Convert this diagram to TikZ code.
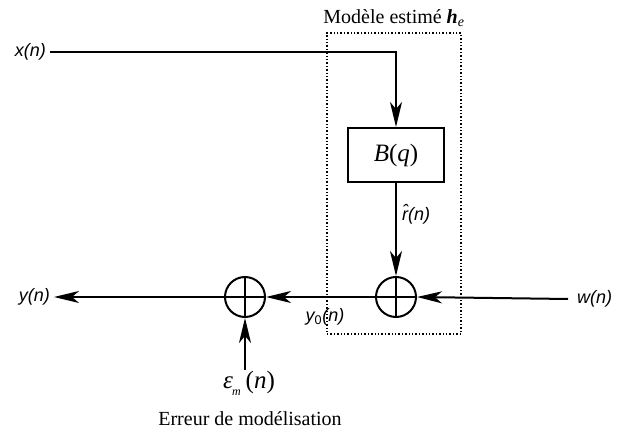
\documentclass[tikz,border=0pt]{standalone}
\usepackage{amsmath,amssymb}
\usepackage{fontspec}
\setmainfont{Liberation Serif}
\newfontfamily\sigfont{Liberation Sans}
\usetikzlibrary{positioning, arrows.meta, calc}
\tikzset{
    blocknode/.style = {draw, line width=2pt, minimum width=96pt, minimum height=54pt,
                        font=\itshape\fontsize{25}{27}\selectfont},
    sumnode/.style   = {draw, circle, line width=2pt, minimum size=40pt, inner sep=0pt,
                        path picture={\draw[line width=2pt]
                          (path picture bounding box.north) -- (path picture bounding box.south)
                          (path picture bounding box.west) -- (path picture bounding box.east);}},
    modelbox/.style  = {draw, dotted, line width=1.4pt, minimum width=134pt, minimum height=301pt},
    sig/.style       = {-{Stealth[length=25pt, width=12pt, inset=7pt]}, line width=2pt},
    siglbl/.style    = {font=\sigfont\itshape\fontsize{18}{20}\selectfont, inner sep=4pt},
    textlbl/.style   = {font=\fontsize{20}{22}\selectfont, inner sep=1pt},
}
\begin{document}
\begin{tikzpicture}[x=1pt, y=-1pt]
\useasboundingbox (0,0) rectangle (619,435);

% model block
\node[modelbox] (model) at (394,183.5) {};
\node[textlbl, above=4pt of model] (title) {Modèle estimé \textbf{\textit{h}}\textsubscript{\textit{e}}};

\node[blocknode] (B) at (396,155) {B\upshape(\itshape q\upshape)};
\node[sumnode] (S2) at (396,297) {};
\node[sumnode] (S1) at (245,297) {};

% signals
\node[siglbl, anchor=east] (x) at (50,52) {x(n)};
\node[siglbl, anchor=east] (y) at (54,297) {y(n)};
\node[siglbl, anchor=west, inner sep=9pt] (w) at (568,299) {w(n)};
\node[siglbl, inner sep=1pt, anchor=west] (r) at (401,214) {\^{r}(n)};
\node[siglbl, inner sep=1pt] (y0) at (325,317) {y\textsubscript{\upshape 0}(n)};
\node[font=\fontsize{25}{27}\selectfont, inner sep=1pt] (eps) at (249,383)
    {\textit{ε}\kern-1pt\raisebox{-7pt}{\fontsize{12}{12}\selectfont\itshape m}\kern5pt(\textit{n})};
\node[textlbl] (err) at (250,419) {Erreur de modélisation};
\coordinate (epsup) at (245,370);

\draw[sig] (x.east) -| (B.north);
\draw[sig] (B.south) -- (S2.north);
\draw[sig] (w.west) -- (S2.east);
\draw[sig] (S2.west) -- (S1.east);
\draw[sig] (S1.west) -- (y.east);
\draw[sig] (epsup) -- (S1.south);

\end{tikzpicture}
\end{document}
